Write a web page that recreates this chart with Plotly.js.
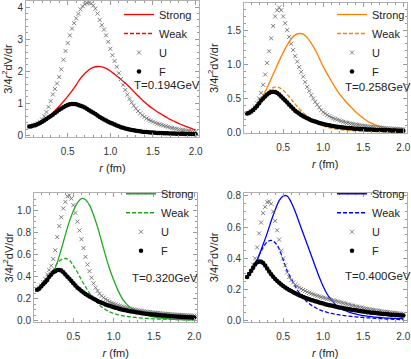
<!DOCTYPE html>
<html>
<head>
<meta charset="utf-8">
<script src="https://cdn.plot.ly/plotly-3.0.1.min.js"></script>
<style>html,body{margin:0;padding:0;background:#fff;}#chart{width:411px;height:359px;}</style>
</head>
<body>
<div id="chart"></div>
<script>
// r grids (fm)
const rLine = [0.05,0.1,0.15,0.2,0.25,0.3,0.35,0.4,0.45,0.5,0.55,0.6,0.65,0.7,0.75,0.8,0.85,0.9,0.95,1.0,1.05,1.1,1.15,1.2,1.25,1.3,1.35,1.4,1.45,1.5,1.55,1.6,1.65,1.7,1.75,1.8,1.85,1.9,1.95,2.0];
const rPts = [0.05,0.075,0.1,0.125,0.15,0.175,0.2,0.225,0.25,0.275,0.3,0.325,0.35,0.375,0.4,0.425,0.45,0.475,0.5,0.525,0.55,0.575,0.6,0.625,0.65,0.675,0.7,0.725,0.75,0.775,0.8,0.825,0.85,0.875,0.9,0.925,0.95,0.975,1.0,1.025,1.05,1.075,1.1,1.125,1.15,1.175,1.2,1.225,1.25,1.275,1.3,1.325,1.35,1.375,1.4,1.425,1.45,1.475,1.5,1.525,1.55,1.575,1.6,1.625,1.65,1.675,1.7,1.725,1.75,1.775,1.8,1.825,1.85,1.875,1.9,1.925,1.95,1.975,2.0];

const seriesNames = ['Strong','Weak','U','F'];
const tempLabels = ['T=0.194GeV','T=0.258GeV','T=0.320GeV','T=0.400GeV'];

// T = 0.194 GeV
const strong194 = [0.28,0.31,0.36,0.44,0.53,0.64,0.77,0.91,1.06,1.22,1.39,1.58,1.78,1.93,2.05,2.12,2.15,2.14,2.09,2.01,1.91,1.80,1.69,1.57,1.44,1.30,1.17,1.04,0.93,0.83,0.74,0.66,0.58,0.50,0.44,0.38,0.32,0.27,0.22,0.17];
const weak194 = [0.28,0.31,0.36,0.43,0.51,0.60,0.70,0.80,0.88,0.95,0.98,0.97,0.93,0.87,0.79,0.71,0.62,0.54,0.47,0.40,0.34,0.29,0.24,0.20,0.17,0.15,0.13,0.115,0.10,0.09,0.08,0.072,0.065,0.06,0.055,0.05,0.046,0.042,0.038,0.035];
const U194 = [0.28,0.29,0.31,0.34,0.38,0.43,0.50,0.60,0.73,0.89,1.07,1.28,1.45,1.62,1.82,2.06,2.36,2.63,2.88,3.12,3.33,3.50,3.65,3.79,3.93,4.03,4.09,4.13,4.14,4.11,4.05,3.95,3.80,3.60,3.44,3.30,3.12,2.92,2.70,2.50,2.32,2.14,1.94,1.76,1.58,1.42,1.27,1.14,1.03,0.93,0.84,0.76,0.69,0.63,0.58,0.53,0.49,0.46,0.43,0.40,0.37,0.35,0.33,0.31,0.29,0.27,0.25,0.235,0.22,0.205,0.19,0.18,0.17,0.16,0.15,0.14,0.13,0.12,0.11];
const F194 = [0.28,0.29,0.31,0.33,0.36,0.39,0.43,0.47,0.51,0.56,0.60,0.65,0.70,0.75,0.80,0.84,0.88,0.92,0.95,0.97,0.98,0.98,0.97,0.95,0.93,0.90,0.87,0.83,0.79,0.75,0.71,0.67,0.62,0.58,0.54,0.50,0.47,0.43,0.40,0.37,0.34,0.31,0.29,0.26,0.24,0.22,0.20,0.19,0.17,0.16,0.15,0.14,0.13,0.12,0.11,0.105,0.10,0.095,0.09,0.085,0.08,0.078,0.075,0.072,0.07,0.067,0.065,0.062,0.06,0.058,0.056,0.054,0.052,0.05,0.048,0.046,0.045,0.043,0.042];

// T = 0.258 GeV
const strong258 = [0.28,0.31,0.36,0.44,0.54,0.66,0.79,0.92,1.05,1.17,1.28,1.37,1.43,1.45,1.44,1.39,1.31,1.21,1.09,0.97,0.86,0.76,0.66,0.57,0.50,0.43,0.37,0.31,0.26,0.21,0.17,0.14,0.115,0.095,0.08,0.065,0.055,0.045,0.04,0.035];
const weak258 = [0.28,0.31,0.36,0.43,0.51,0.58,0.64,0.67,0.66,0.62,0.56,0.49,0.42,0.35,0.29,0.24,0.19,0.155,0.125,0.10,0.08,0.065,0.055,0.045,0.04,0.035,0.03,0.027,0.024,0.022,0.02,0.018,0.017,0.016,0.015,0.014,0.013,0.012,0.011,0.01];
const U258 = [0.28,0.29,0.31,0.34,0.38,0.43,0.50,0.58,0.70,0.85,1.02,1.19,1.38,1.56,1.70,1.79,1.83,1.79,1.70,1.60,1.50,1.40,1.30,1.21,1.12,1.04,0.96,0.89,0.82,0.74,0.67,0.61,0.55,0.50,0.45,0.41,0.37,0.33,0.30,0.28,0.26,0.24,0.225,0.21,0.20,0.19,0.18,0.17,0.16,0.152,0.145,0.138,0.132,0.126,0.12,0.115,0.11,0.105,0.10,0.096,0.092,0.088,0.085,0.082,0.079,0.076,0.073,0.070,0.068,0.066,0.064,0.062,0.060,0.058,0.056,0.054,0.052,0.051,0.05];
const F258 = [0.28,0.29,0.31,0.33,0.36,0.39,0.43,0.47,0.50,0.53,0.56,0.58,0.595,0.60,0.595,0.58,0.56,0.53,0.50,0.47,0.44,0.41,0.38,0.35,0.32,0.30,0.28,0.26,0.24,0.225,0.21,0.195,0.183,0.172,0.162,0.152,0.143,0.135,0.127,0.12,0.113,0.107,0.101,0.096,0.091,0.087,0.083,0.079,0.076,0.073,0.07,0.067,0.064,0.062,0.059,0.057,0.055,0.053,0.051,0.049,0.047,0.046,0.044,0.043,0.041,0.04,0.039,0.038,0.037,0.036,0.035,0.034,0.033,0.032,0.031,0.030,0.030,0.029,0.028];

// T = 0.320 GeV
const strong320 = [0.28,0.31,0.34,0.38,0.44,0.53,0.65,0.78,0.90,1.00,1.07,1.11,1.10,1.05,0.96,0.85,0.72,0.59,0.47,0.37,0.28,0.21,0.16,0.125,0.10,0.08,0.065,0.052,0.042,0.034,0.027,0.022,0.018,0.015,0.012,0.010,0.009,0.008,0.007,0.006];
const weak320 = [0.28,0.31,0.35,0.40,0.46,0.52,0.555,0.565,0.55,0.50,0.44,0.37,0.31,0.25,0.20,0.16,0.125,0.10,0.08,0.065,0.055,0.046,0.04,0.035,0.031,0.027,0.024,0.021,0.019,0.017,0.015,0.014,0.013,0.012,0.011,0.010,0.009,0.008,0.008,0.007];
const U320 = [0.28,0.30,0.32,0.35,0.38,0.42,0.46,0.50,0.56,0.64,0.76,0.86,0.94,1.02,1.08,1.13,1.14,1.11,1.05,0.98,0.90,0.82,0.74,0.66,0.58,0.51,0.45,0.39,0.34,0.30,0.27,0.245,0.225,0.21,0.195,0.183,0.172,0.162,0.155,0.148,0.141,0.135,0.129,0.124,0.119,0.114,0.11,0.106,0.102,0.098,0.095,0.092,0.089,0.086,0.083,0.08,0.078,0.076,0.074,0.072,0.070,0.068,0.066,0.064,0.062,0.061,0.059,0.058,0.056,0.055,0.054,0.052,0.051,0.050,0.049,0.048,0.047,0.046,0.045];
const F320 = [0.28,0.29,0.31,0.33,0.35,0.37,0.40,0.42,0.44,0.45,0.46,0.46,0.455,0.44,0.42,0.40,0.38,0.36,0.34,0.32,0.30,0.285,0.27,0.255,0.243,0.232,0.22,0.21,0.20,0.19,0.178,0.170,0.162,0.155,0.148,0.141,0.135,0.129,0.123,0.117,0.112,0.107,0.102,0.098,0.094,0.09,0.086,0.083,0.08,0.077,0.074,0.071,0.068,0.066,0.063,0.061,0.059,0.057,0.055,0.053,0.051,0.049,0.047,0.046,0.044,0.043,0.041,0.04,0.039,0.037,0.036,0.035,0.034,0.033,0.032,0.031,0.030,0.029,0.028];

// T = 0.400 GeV
const strong400 = [0.28,0.31,0.36,0.42,0.49,0.56,0.64,0.71,0.77,0.80,0.80,0.76,0.70,0.63,0.56,0.49,0.42,0.35,0.28,0.22,0.17,0.135,0.105,0.085,0.07,0.06,0.051,0.044,0.038,0.033,0.029,0.026,0.023,0.021,0.019,0.017,0.016,0.015,0.014,0.013];
const weak400 = [0.28,0.31,0.36,0.42,0.47,0.505,0.515,0.50,0.46,0.39,0.32,0.27,0.22,0.18,0.15,0.12,0.10,0.085,0.072,0.062,0.054,0.047,0.042,0.038,0.034,0.031,0.028,0.025,0.023,0.021,0.019,0.017,0.015,0.014,0.012,0.011,0.01,0.009,0.008,0.007];
const U400 = [0.28,0.30,0.32,0.36,0.40,0.47,0.56,0.63,0.69,0.73,0.76,0.765,0.75,0.70,0.64,0.58,0.52,0.45,0.40,0.355,0.31,0.28,0.26,0.245,0.232,0.222,0.213,0.205,0.198,0.191,0.185,0.179,0.174,0.169,0.164,0.16,0.156,0.152,0.148,0.145,0.141,0.138,0.134,0.131,0.127,0.124,0.12,0.117,0.113,0.11,0.106,0.103,0.099,0.096,0.093,0.09,0.087,0.084,0.081,0.078,0.076,0.073,0.071,0.069,0.067,0.065,0.063,0.061,0.059,0.057,0.056,0.054,0.053,0.051,0.05,0.048,0.047,0.045,0.044];
const F400 = [0.28,0.30,0.32,0.34,0.36,0.375,0.38,0.378,0.37,0.355,0.335,0.315,0.298,0.282,0.268,0.255,0.243,0.232,0.222,0.213,0.205,0.197,0.19,0.183,0.176,0.17,0.164,0.158,0.153,0.148,0.143,0.138,0.133,0.129,0.125,0.121,0.117,0.113,0.11,0.106,0.103,0.1,0.097,0.094,0.091,0.088,0.085,0.083,0.08,0.078,0.076,0.073,0.071,0.069,0.067,0.065,0.063,0.061,0.059,0.057,0.055,0.054,0.052,0.051,0.049,0.048,0.046,0.045,0.044,0.043,0.041,0.04,0.039,0.038,0.037,0.036,0.035,0.034,0.033];

const panels = [
  {strong: strong194, weak: weak194, U: U194, F: F194, color: 'rgb(255,0,0)', xa: 'x', ya: 'y', lg: 'legend'},
  {strong: strong258, weak: weak258, U: U258, F: F258, color: 'rgb(255,128,0)', xa: 'x2', ya: 'y2', lg: 'legend2'},
  {strong: strong320, weak: weak320, U: U320, F: F320, color: 'rgb(30,170,30)', xa: 'x3', ya: 'y3', lg: 'legend3'},
  {strong: strong400, weak: weak400, U: U400, F: F400, color: 'rgb(0,0,255)', xa: 'x4', ya: 'y4', lg: 'legend4'}
];

const traces = [];
panels.forEach(p => {
  traces.push({type:'scatter', mode:'lines', x:rLine, y:p.strong, name:seriesNames[0], xaxis:p.xa, yaxis:p.ya, legend:p.lg,
    line:{color:p.color, width:1.3, shape:'spline'}, hoverinfo:'skip'});
  traces.push({type:'scatter', mode:'lines', x:rLine, y:p.weak, name:seriesNames[1], xaxis:p.xa, yaxis:p.ya, legend:p.lg,
    line:{color:p.color, width:1.3, dash:'4px,2px', shape:'spline'}, hoverinfo:'skip'});
  traces.push({type:'scatter', mode:'markers', x:rPts, y:p.U, name:seriesNames[2], xaxis:p.xa, yaxis:p.ya, legend:p.lg,
    marker:{symbol:'x-thin', size:4, color:'#707070', line:{width:0.9, color:'#707070'}}, hoverinfo:'skip'});
  traces.push({type:'scatter', mode:'markers', x:rPts, y:p.F, name:seriesNames[3], xaxis:p.xa, yaxis:p.ya, legend:p.lg,
    marker:{symbol:'circle', size:4.5, color:'#000'}, hoverinfo:'skip'});
});

const tickGray = '#9a9a9a';
function xAx(domain, anchor) {
  return {domain: domain, anchor: anchor, range: [0.011, 2.04], tick0: 0, dtick: 0.5, tickformat: '.1f',
    ticks: 'inside', ticklen: 4, tickcolor: tickGray, showline: true, linecolor: '#b0b0b0', linewidth: 1,
    mirror: 'allticks', showgrid: false, zeroline: false, tickfont: {size: 10, color: '#333'},
    ticklabelstandoff: 5,
    minor: {ticks: 'inside', ticklen: 2, tick0: 0, dtick: 0.1, tickcolor: tickGray, showgrid: false},
    title: {text: '<i>r</i> (fm)', font: {size: 11, color: '#222'}, standoff: 8}};
}
function yAx(domain, anchor, range, dtick, minor, fmt, standoff) {
  return {domain: domain, anchor: anchor, range: range, tick0: 0, dtick: dtick, tickformat: fmt,
    ticks: 'inside', ticklen: 4, tickcolor: tickGray, showline: true, linecolor: '#b0b0b0', linewidth: 1,
    mirror: 'allticks', showgrid: false, zeroline: false, tickfont: {size: 10, color: '#333'},
    minor: {ticks: 'inside', ticklen: 2, tick0: 0, dtick: minor, tickcolor: tickGray, showgrid: false},
    title: {text: '3/4<i>r</i><sup>2</sup>dV/dr', font: {size: 11, color: '#222'}, standoff: standoff}};
}
function lg(x, y) {
  return {x: x, y: y, xref: 'paper', yref: 'paper', xanchor: 'left', yanchor: 'top', bgcolor: 'rgba(0,0,0,0)',
    borderwidth: 0, font: {size: 11, color: '#222'}, tracegroupgap: 0, itemwidth: 30, itemclick: false};
}
function tAnn(text, x, y) {
  return {text: text, x: x, y: y, xref: 'paper', yref: 'paper', xanchor: 'left', yanchor: 'middle',
    showarrow: false, font: {size: 11.5, color: '#222'}};
}

const layout = {
  width: 411, height: 359, margin: {l: 0, r: 0, t: 0, b: 0},
  paper_bgcolor: '#fff', plot_bgcolor: '#fff',
  font: {family: 'Liberation Sans, Arial, sans-serif', size: 10, color: '#333'},
  showlegend: true,
  xaxis: xAx([0.0633, 0.4842], 'y'),
  yaxis: yAx([0.6184, 0.9972], 'x', [-0.047, 4.19], 1, 0.2, 'd', 4),
  xaxis2: xAx([0.5937, 0.9891], 'y2'),
  yaxis2: yAx([0.6287, 0.9916], 'x2', [-0.009, 1.896], 0.5, 0.1, '.1f', 6),
  xaxis3: xAx([0.0827, 0.4805], 'y3'),
  yaxis3: yAx([0.1031, 0.4616], 'x3', [-0.012, 1.158], 0.2, 0.05, '.1f', 1),
  xaxis4: xAx([0.5937, 0.9891], 'y4'),
  yaxis4: yAx([0.1031, 0.4632], 'x4', [-0.008, 0.821], 0.2, 0.05, '.1f', 6),
  legend: lg(0.2895, 1.0),
  legend2: lg(0.8078, 1.0),
  legend3: lg(0.2944, 0.5007),
  legend4: lg(0.8078, 0.5007),
  annotations: [
    tAnn(tempLabels[0], 0.3212, 0.7632),
    tAnn(tempLabels[1], 0.8345, 0.7577),
    tAnn(tempLabels[2], 0.3163, 0.2256),
    tAnn(tempLabels[3], 0.8345, 0.2312)
  ]
};

Plotly.newPlot('chart', traces, layout, {displayModeBar: false, staticPlot: true});
</script>
</body>
</html>
